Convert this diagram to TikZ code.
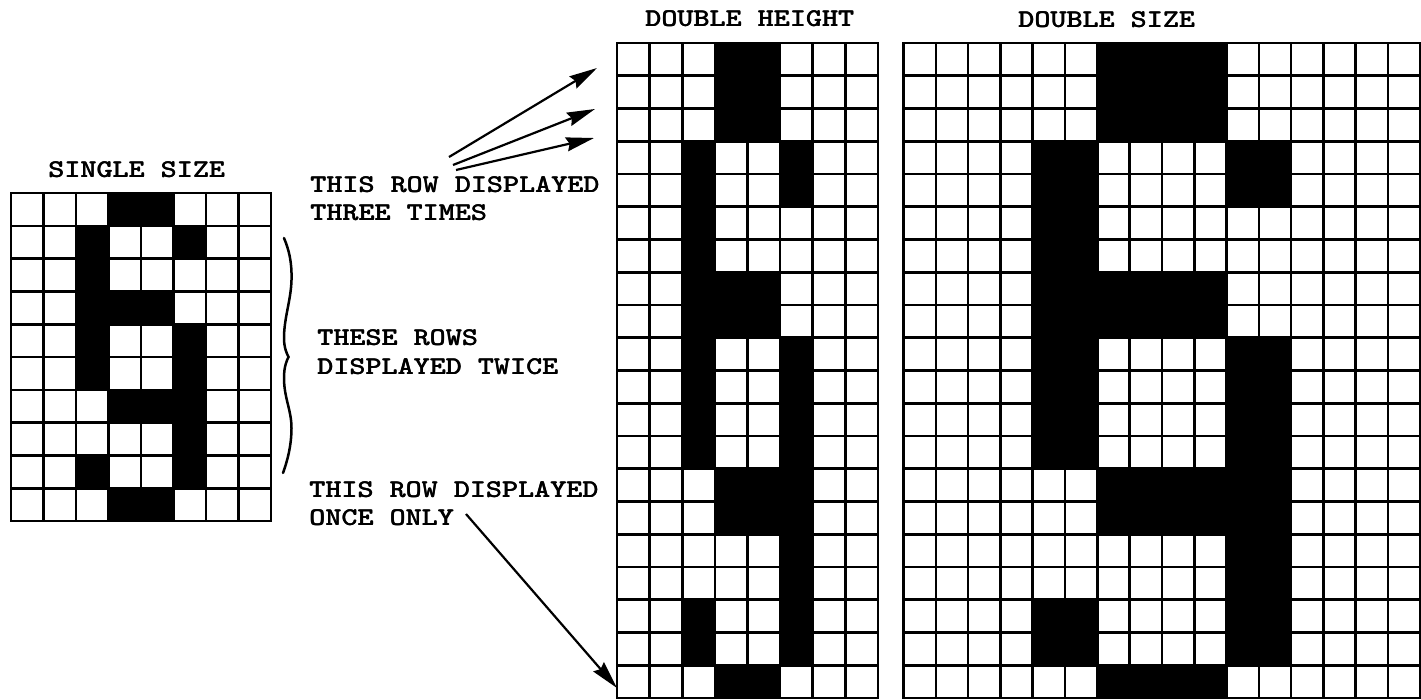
\documentclass[tikz,border=0pt]{standalone}
\usepackage{fontspec}
\usepackage{graphicx}
\usetikzlibrary{arrows.meta}
\newcommand{\lbl}[1]{\scalebox{1.2}[1]{\fontsize{25.5}{28}\selectfont\ttfamily\bfseries\rlap{#1}\kern0.3pt #1}}
\tikzset{
  gl/.style={line width=2.6pt, line cap=rect},
  lab/.style={inner sep=0pt, anchor=base west},
  arr/.style={line width=2.2pt, -{Stealth[length=28pt,width=14pt,inset=3pt]}},
  bracestroke/.style={line width=2.5pt, line cap=round}
}
\begin{document}
\begin{tikzpicture}[x=1pt,y=-1pt]
\useasboundingbox (0,0) rectangle (1421,699);
% black cells
\foreach \r/\c in {0/3,0/4,1/2,1/5,2/2,3/2,3/3,3/4,4/2,4/5,5/2,5/5,6/3,6/4,6/5,7/5,8/2,8/5,9/3,9/4}{
  \pgfmathsetmacro{\st}{ifthenelse(\r==0,0,2*\r+1)}
  \pgfmathsetmacro{\en}{ifthenelse(\r==0,3,ifthenelse(\r==9,20,2*\r+3))}
  \fill (11+\c*32.5, 193+\r*32.8) rectangle ++(32.5,32.8);
  \fill (617+\c*32.6, 43+\st*32.75) rectangle (617+\c*32.6+32.6, 43+\en*32.75);
  \fill (903.5+2*\c*32.3, 43+\st*32.75) rectangle (903.5+2*\c*32.3+2*32.3, 43+\en*32.75);
}
% single size grid
\foreach \i in {0,...,8} \draw[gl] (11+\i*32.5,193) -- (11+\i*32.5,521);
\foreach \j in {0,...,10} \draw[gl] (11,193+\j*32.8) -- (271,193+\j*32.8);
% double height grid
\foreach \i in {0,...,8} \draw[gl] (617+\i*32.6,43) -- (617+\i*32.6,698);
\foreach \j in {0,...,20} \draw[gl] (617,43+\j*32.75) -- (877.8,43+\j*32.75);
% double size grid
\foreach \i in {0,...,16} \draw[gl] (903.5+\i*32.3,43) -- (903.5+\i*32.3,698);
\foreach \j in {0,...,20} \draw[gl] (903.5,43+\j*32.75) -- (1420.3,43+\j*32.75);
% titles
\node[lab] (tsingle) at (48,177) {\lbl{SINGLE SIZE}};
\node[lab] (tdh) at (645,26) {\lbl{DOUBLE HEIGHT}};
\node[lab] (tds) at (1018,27) {\lbl{DOUBLE SIZE}};
% annotations
\node[lab] (three1) at (310,192) {\lbl{THIS ROW DISPLAYED}};
\node[lab] (three2) at (310,220) {\lbl{THREE TIMES}};
\node[lab] (twice1) at (317,345) {\lbl{THESE ROWS}};
\node[lab] (twice2) at (317,374) {\lbl{DISPLAYED TWICE}};
\node[lab] (once1) at (309,497) {\lbl{THIS ROW DISPLAYED}};
\node[lab] (once2) at (309,525) {\lbl{ONCE ONLY}};
% brace
\draw[bracestroke] (284,238) .. controls (289,250) and (292,262) .. (291.5,280)
  .. controls (291,300) and (284,318) .. (284,338)
  .. controls (284,348) and (287,354) .. (288.5,357)
  .. controls (287,360) and (284,366) .. (284,378)
  .. controls (284,398) and (291.5,410) .. (291.5,428)
  .. controls (291.5,446) and (287,462) .. (283,473);
% arrows
\coordinate (a1s) at (449,157); \coordinate (a1e) at (597,68);
\coordinate (a2s) at (453,165); \coordinate (a2e) at (595,109);
\coordinate (a3s) at (456,170); \coordinate (a3e) at (594,138);
\coordinate (a4s) at (466,514); \coordinate (a4e) at (617,688);
\draw[arr] (a1s) -- (a1e);
\draw[arr] (a2s) -- (a2e);
\draw[arr] (a3s) -- (a3e);
\draw[arr] (a4s) -- (a4e);
\end{tikzpicture}
\end{document}
